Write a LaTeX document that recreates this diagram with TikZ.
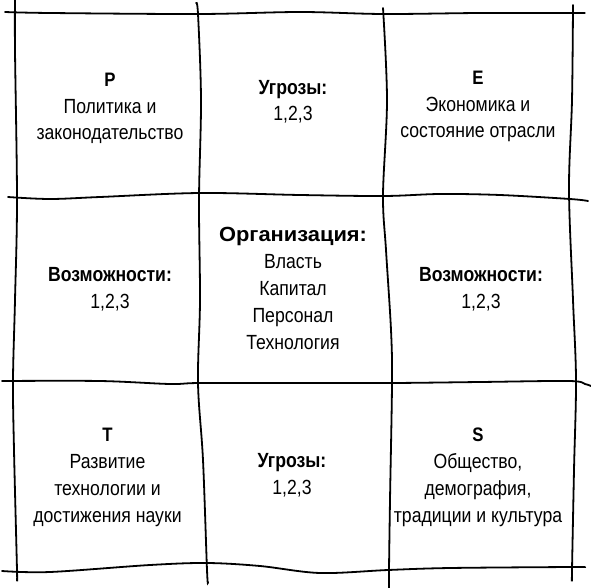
\documentclass[tikz,border=0pt]{standalone}
\usepackage{fontspec}
\setmainfont[FakeStretch=0.86]{Liberation Sans}
\newcommand{\ltr}[1]{{\fontsize{19.5}{26.8}\selectfont\bfseries #1}}
\begin{document}
\begin{tikzpicture}[x=1pt,y=-1pt,
  gridline/.style={line width=1.8pt, line cap=round, smooth, tension=0.55},
  cell/.style={align=center, inner sep=0pt, anchor=base, font=\fontsize{20.5}{26.8}\selectfont}]
\useasboundingbox (0,0) rectangle (591,588);
% horizontal lines
\draw[gridline] plot coordinates {(5,12) (50,13) (200,14) (300,12) (383,14) (480,13) (573,13) (585,13)};
\draw[gridline] plot coordinates {(8,197) (50,199) (100,197) (200,193) (300,195) (384,196) (440,194) (500,195) (570,199) (588,201)};
\draw[gridline] plot coordinates {(2,381) (100,381) (170,384) (200,383) (300,383) (392,383) (480,382) (569,381) (585,384) (591,386)};
\draw[gridline] plot coordinates {(2,571) (50,572) (150,565) (207,563) (260,566) (320,573) (388,570) (450,568) (570,567) (584,567)};
% vertical lines
\draw[gridline] plot coordinates {(15,0) (15,50) (17,200) (15,300) (13,380) (14,450) (17,570) (17,578)};
\draw[gridline] plot coordinates {(196,3) (198,14) (201,100) (199,200) (200,300) (198,383) (203,460) (207,570) (208,582)};
\draw[gridline] plot coordinates {(383,8) (387,100) (383,195) (386,250) (391,330) (392,383) (390,500) (389,570) (389,588)};
\draw[gridline] plot coordinates {(573,5) (572,100) (569,190) (573,300) (576,380) (574,470) (572,570) (572,580)};
% texts (anchor base = baseline of the last line)
\node[cell] (p) at (110,140) {\ltr{P}\\Политика и\\законодательство};
\node[cell] (t1) at (293,121) {\textbf{Угрозы:}\\1,2,3};
\node[cell] (e) at (478,138) {\ltr{E}\\Экономика и\\состояние отрасли};
\node[cell] (o1) at (110,308) {\textbf{Возможности:}\\1,2,3};
\node[cell] (org) at (293,349) {\scalebox{1.24}[1]{\textbf{Организация:}}\\Власть\\Капитал\\Персонал\\Технология};
\node[cell] (o2) at (481,308) {\textbf{Возможности:}\\1,2,3};
\node[cell] (t) at (107.5,522) {\ltr{T}\\Развитие\\технологии и\\достижения науки};
\node[cell] (t2) at (292,494) {\textbf{Угрозы:}\\1,2,3};
\node[cell] (s) at (478,522) {\ltr{S}\\Общество,\\демография,\\традиции и культура};
\end{tikzpicture}
\end{document}
